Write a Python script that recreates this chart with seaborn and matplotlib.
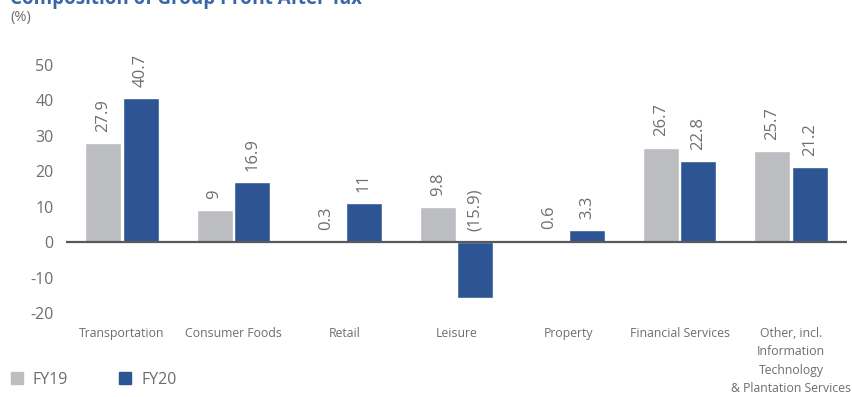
import pandas as pd
import matplotlib.pyplot as plt
import seaborn as sns
from matplotlib.lines import Line2D

# chart values
categories = ["Transportation", "Consumer Foods", "Retail", "Leisure", "Property",
              "Financial Services",
              "Other, incl.\nInformation\nTechnology\n& Plantation Services"]
fy19 = [27.9, 9, 0.3, 9.8, 0.6, 26.7, 25.7]
fy20 = [40.7, 16.9, 11, -15.9, 3.3, 22.8, 21.2]
years = ["FY19", "FY20"]
yticks = [-20, -10, 0, 10, 20, 30, 40, 50]

gray = "#bcbdc0"
blue = "#2e5593"
txt = "#6d6e71"

sns.set_style("white")
plt.rcParams["font.family"] = ["Open Sans", "DejaVu Sans"]

# long table for seaborn
df = pd.DataFrame({
    "category": categories * 2,
    "year": [years[0]] * len(categories) + [years[1]] * len(categories),
    "value": fy19 + fy20,
})

fig = plt.figure(figsize=(8.52, 3.97), dpi=100)
ax = fig.add_axes([66 / 852, 1 - 313 / 397, (847 - 66) / 852, (313 - 65) / 397])

sns.barplot(data=df, x="category", y="value", hue="year", order=categories,
            hue_order=years, palette=[gray, blue], width=0.672, gap=0.04,
            saturation=1, legend=False, ax=ax)

ax.set_xlim(-0.5, 6.5)
ax.set_ylim(-20, 50)
ax.set_yticks(yticks)
ax.set_yticklabels([str(t) for t in yticks], fontsize=11.5, color=txt)
ax.set_xlabel("")
ax.set_ylabel("")
ax.tick_params(axis="y", length=0, pad=9)
ax.tick_params(axis="x", length=0, pad=10)
ax.set_xticks(range(len(categories)))
ax.set_xticklabels(categories, fontsize=8.8, color=txt, va="top", linespacing=1.55)
for s in ax.spines.values():
    s.set_visible(False)

# zero line
ax.axhline(0, color="#58595b", lw=1.6, zorder=5)

# value labels
for container in ax.containers:
    for bar in container:
        v = bar.get_height()
        x = bar.get_x() + bar.get_width() / 2
        lab = f"({abs(v):g})" if v < 0 else f"{v:g}"
        ax.annotate(lab, (x, max(v, 0)), xytext=(0, 8), textcoords="offset points",
                    rotation=90, ha="center", va="bottom", fontsize=12,
                    color=txt, annotation_clip=False)

# title, clipped at the top like the original
fig.text(10 / 852, 1 - 4 / 397, "Composition of Group Profit After Tax",
         fontsize=13.5, fontweight="bold", color="#3a66a8", va="baseline")
fig.text(10 / 852, 1 - 18 / 397, "(%)", fontsize=10.5, color=txt, va="center")

# legend
handles = [Line2D([], [], marker="s", ls="", markersize=9, color=c) for c in [gray, blue]]
fig.legend(handles, years, loc="center left", bbox_to_anchor=(7 / 852, 1 - 380 / 397),
           ncol=2, frameon=False, fontsize=11.5, labelcolor=txt, handletextpad=0.4,
           columnspacing=3.0, handlelength=1.2, borderpad=0, borderaxespad=0)

plt.savefig("out.png", dpi=100)
